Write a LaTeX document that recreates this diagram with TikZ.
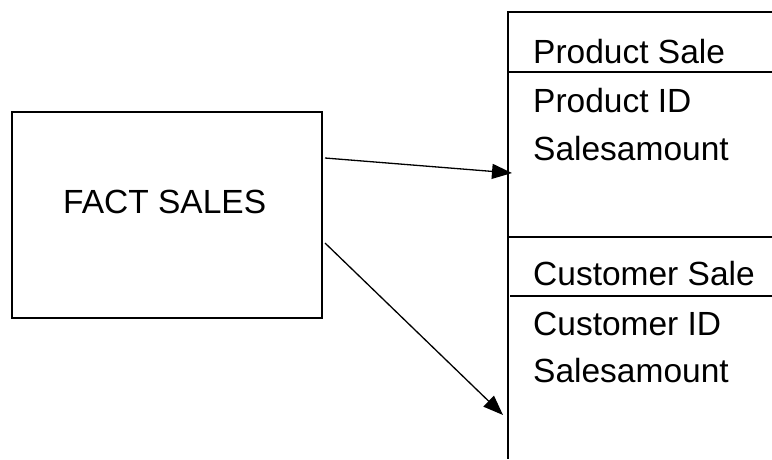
\documentclass[tikz,border=0pt]{standalone}
\usepackage{fontspec}
\setmainfont{Liberation Sans}
\usetikzlibrary{arrows.meta}
\tikzset{
  boxline/.style={draw=black, line width=1.4pt},
  conn/.style={draw=black, line width=1.3pt, -{Triangle[length=20pt,width=15pt]}},
  lbl/.style={anchor=base west, inner sep=0pt, font=\fontsize{33.5}{40}\selectfont}
}
\begin{document}
\begin{tikzpicture}[x=1pt,y=-1pt]
\useasboundingbox (0,0) rectangle (772,459);
% fact box
\node[boxline, minimum width=310pt, minimum height=206pt, inner sep=0pt] (fact) at (167,215) {};
\node[lbl] (factlbl) at (63,213) {FACT SALES};
% table outline
\coordinate (tl) at (508,12);
\coordinate (tr) at (772,12);
\coordinate (bl) at (508,459);
\draw[boxline] (tr) -- (tl) -- (bl);
\coordinate (h1a) at (508,72);  \coordinate (h1b) at (772,72);
\coordinate (h2a) at (508,237); \coordinate (h2b) at (772,237);
\coordinate (h3a) at (510,296); \coordinate (h3b) at (772,296);
\draw[boxline] (h1a) -- (h1b);
\draw[boxline] (h2a) -- (h2b);
\draw[boxline] (h3a) -- (h3b);
% texts
\node[lbl] (ps) at (533,63) {Product Sale};
\node[lbl] (pid) at (533,112) {Product ID};
\node[lbl] (psa) at (533,160) {Salesamount};
\node[lbl] (cs) at (533,285) {Customer Sale};
\node[lbl] (cid) at (533,335) {Customer ID};
\node[lbl] (csa) at (533,382) {Salesamount};
% connectors
\coordinate (s1) at (325,158);
\coordinate (e1) at (512,173);
\coordinate (s2) at (325,243);
\coordinate (e2) at (503,415);
\draw[conn] (s1) -- (e1);
\draw[conn] (s2) -- (e2);
\end{tikzpicture}
\end{document}
